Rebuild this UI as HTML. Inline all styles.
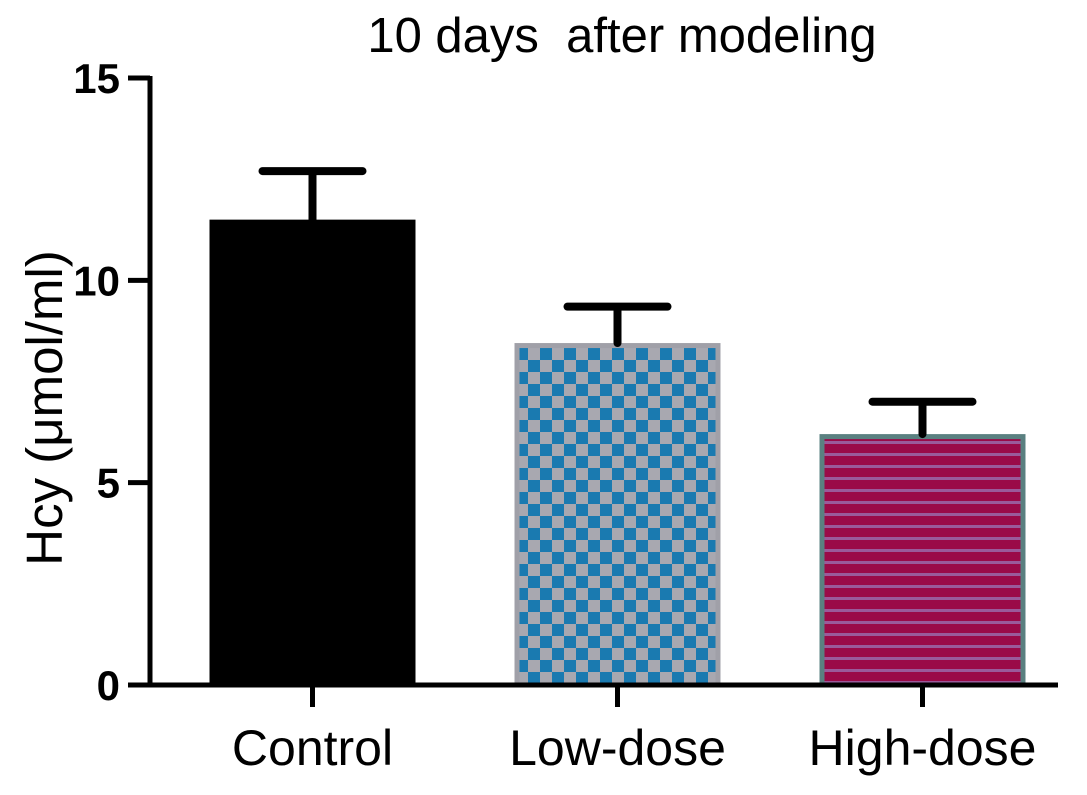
<!DOCTYPE html>
<html><head><meta charset="utf-8"><style>
body{margin:0;background:#fff;}
svg text{font-family:"Liberation Sans",Arial,sans-serif;}
</style></head><body>
<svg id="chart" width="1087" height="790" viewBox="0 0 1087 790" xmlns="http://www.w3.org/2000/svg">
<defs>
<pattern id="checker" width="24" height="24" patternUnits="userSpaceOnUse">
<rect width="24" height="24" fill="#a8a8b0"/>
<rect width="12" height="12" fill="#1a7ab0"/>
<rect x="12" y="12" width="12" height="12" fill="#1a7ab0"/>
</pattern>
<pattern id="stripes" width="12" height="12" patternUnits="userSpaceOnUse">
<rect width="12" height="12" fill="#9a0a48"/>
<rect y="9" width="12" height="3" fill="#9a5a9a"/>
</pattern>
</defs>
<text x="622" y="52" font-size="49" text-anchor="middle" xml:space="preserve">10 days  after modeling</text>
<g id="bars"></g>
<g id="axes"></g>
</svg>
<script>
const categories = ["Control","Low-dose","High-dose"];
const means = [11.5, 8.45, 6.2];
const errors = [1.2, 0.9, 0.8];
const yTicks = [0,5,10,15];

const NS="http://www.w3.org/2000/svg";
const x0=150, y0=685, yTop=78, yMax=15;
const y = v => y0 - v/yMax*(y0-yTop);
const bandStart=160, bandW=305;
const xc = i => bandStart + bandW*i + bandW/2;
const barW=206;
const fills=["#000","url(#checker)","url(#stripes)"];
const strokes=["#000","#a0a0a8","#5a8080"];
function mk(tag,attrs,parent){const e=document.createElementNS(NS,tag);for(const k in attrs)e.setAttribute(k,attrs[k]);parent.appendChild(e);return e;}
const bars=document.getElementById('bars'), axes=document.getElementById('axes');
categories.forEach((c,i)=>{
  const cx=xc(i);
  const r=mk('rect',{x:cx-barW/2+2.5,y:y(means[i])+2.5,width:barW-5,height:y0-y(means[i])-2.5,fill:fills[i],stroke:strokes[i],'stroke-width':5},bars);
  
  
  const eb=mk('path',{d:`M${cx},${y(means[i])} V${y(means[i]+errors[i])} M${cx-50},${y(means[i]+errors[i])} H${cx+50}`,stroke:'#000','stroke-width':8,fill:'none','stroke-linecap':'round'},bars);
  
  
  const t=mk('path',{d:`M${cx},${y0} V${y0+22}`,stroke:'#000','stroke-width':5},axes);
  
  
  const l=mk('text',{x:cx,y:y0+80,'font-size':50,'text-anchor':'middle'},axes);
  l.textContent=c;
  
  
});
const xa=mk('path',{d:`M${x0-2},${y0} H1058`,stroke:'#000','stroke-width':5},axes);


const ya=mk('path',{d:`M${x0},${y0+2} V${yTop-2}`,stroke:'#000','stroke-width':5},axes);


yTicks.forEach(v=>{
  const t=mk('path',{d:`M${x0-22},${y(v)} H${x0}`,stroke:'#000','stroke-width':5},axes);
  
  
  const l=mk('text',{x:x0-30,y:y(v)+15,'font-size':42,'font-weight':'bold','text-anchor':'end'},axes);
  l.textContent=v;
  
  
});
const yt=mk('text',{x:0,y:0,'font-size':51,'text-anchor':'middle',transform:'translate(62,408) rotate(-90)'},axes);
yt.textContent='Hcy (μmol/ml)';


</script>
</body></html>
